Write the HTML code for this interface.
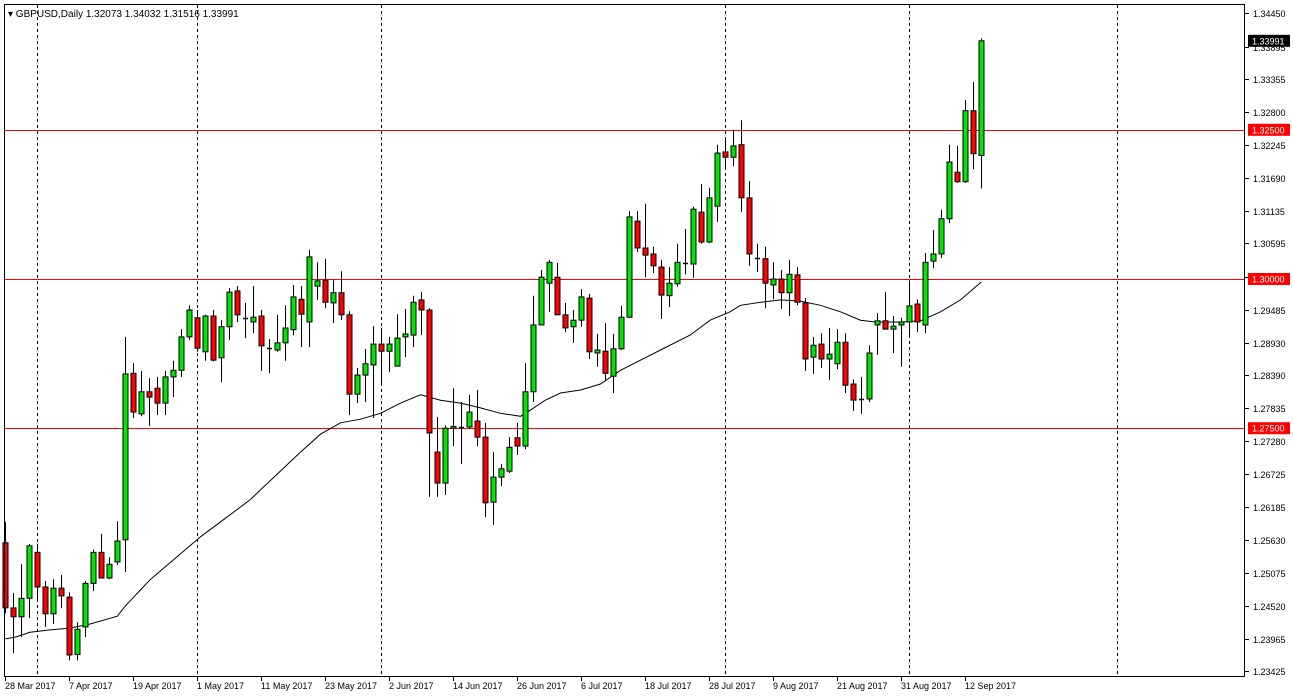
<!DOCTYPE html>
<html><head><meta charset="utf-8"><style>
html,body{margin:0;padding:0;background:#fff;}
svg{display:block;font-family:"Liberation Sans",sans-serif;}
</style></head><body>
<svg id="chart" width="1293" height="698" viewBox="0 0 1293 698" xmlns="http://www.w3.org/2000/svg">
<rect x="0" y="0" width="1293" height="698" fill="#fff"/>
<g id="grid"></g>
<g id="levels"></g>
<g id="ma"></g>
<g id="candles"></g>
<g id="yaxis"></g>
<g id="xaxis"></g>
<rect x="4.5" y="4.5" width="1240" height="672" fill="none" stroke="#000" stroke-width="1"/>
<text x="8" y="17" font-size="10" fill="#000">▾ GBPUSD,Daily  1.32073 1.34032 1.31516 1.33991</text>
</svg>
<script>
const opens=[1.2558,1.2449,1.2434,1.2465,1.2542,1.2484,1.2439,1.2482,1.2467,1.2371,1.2417,1.2490,1.2542,1.2499,1.2526,1.2563,1.2842,1.2774,1.2811,1.2817,1.2792,1.2836,1.2847,1.2903,1.2935,1.2878,1.2938,1.2868,1.2920,1.2980,1.2935,1.2928,1.2938,1.2884,1.2881,1.2893,1.2915,1.2966,1.2928,1.2988,1.2998,1.2960,1.2977,1.2940,1.2807,1.2839,1.2856,1.2891,1.2879,1.2854,1.2903,1.2906,1.2965,1.2948,1.2710,1.2658,1.2750,1.2752,1.2752,1.2762,1.2735,1.2626,1.2668,1.2678,1.2734,1.2720,1.2811,1.2923,1.2993,1.3003,1.2940,1.2920,1.2931,1.2968,1.2876,1.2879,1.2837,1.2883,1.2936,1.3097,1.3052,1.3042,1.3020,1.2972,1.2992,1.3027,1.3025,1.3112,1.3062,1.3122,1.3213,1.3204,1.3225,1.3136,1.3034,1.3034,1.2990,1.3000,1.2977,1.3007,1.2960,1.2869,1.2891,1.2866,1.2858,1.2894,1.2824,1.2799,1.2799,1.2923,1.2930,1.2916,1.2923,1.2928,1.2958,1.2923,1.3030,1.3042,1.3101,1.3179,1.3163,1.3282,1.3207];
const highs=[1.2593,1.2474,1.2522,1.2556,1.2556,1.2494,1.2497,1.2504,1.2475,1.2425,1.2494,1.2547,1.2573,1.2534,1.2594,1.2903,1.2859,1.2846,1.2834,1.2836,1.2846,1.2863,1.2916,1.2956,1.2948,1.2940,1.2948,1.2931,1.2985,1.2988,1.2960,1.2988,1.2948,1.2899,1.2940,1.2956,1.2990,1.2988,1.3049,1.3028,1.3034,1.2998,1.3013,1.2946,1.2851,1.2883,1.2921,1.2918,1.2903,1.2941,1.2950,1.2972,1.2978,1.2951,1.2769,1.2755,1.2817,1.2794,1.2806,1.2814,1.2759,1.2710,1.2690,1.2735,1.2759,1.2859,1.2972,1.3015,1.3032,1.3027,1.2960,1.2948,1.2983,1.2975,1.2908,1.2926,1.2908,1.2955,1.3114,1.3114,1.3126,1.3054,1.3032,1.3020,1.3059,1.3084,1.3121,1.3159,1.3153,1.3225,1.3238,1.3250,1.3266,1.3164,1.3059,1.3054,1.3028,1.3015,1.3032,1.3020,1.2968,1.2903,1.2909,1.2918,1.2916,1.2909,1.2832,1.2836,1.2889,1.2943,1.2978,1.2938,1.2935,1.2998,1.2966,1.3044,1.3082,1.3116,1.3225,1.3223,1.3300,1.3330,1.34032];
const lows=[1.2440,1.2373,1.2400,1.2432,1.2462,1.2417,1.2422,1.2449,1.2361,1.2361,1.2400,1.2477,1.2499,1.2497,1.2521,1.2509,1.2767,1.2770,1.2754,1.2772,1.2772,1.2802,1.2836,1.2898,1.2878,1.2863,1.2862,1.2827,1.2898,1.2928,1.2901,1.2909,1.2846,1.2842,1.2878,1.2863,1.2906,1.2886,1.2886,1.2965,1.2951,1.2926,1.2931,1.2772,1.2792,1.2794,1.2767,1.2822,1.2844,1.2854,1.2869,1.2886,1.2906,1.2635,1.2635,1.2638,1.2720,1.2690,1.2750,1.2720,1.2601,1.2588,1.2653,1.2675,1.2705,1.2715,1.2794,1.2923,1.2945,1.2940,1.2911,1.2893,1.2920,1.2866,1.2853,1.2829,1.2809,1.2881,1.2935,1.3045,1.3003,1.3010,1.2933,1.2953,1.2987,1.3008,1.3002,1.3059,1.3060,1.3096,1.3186,1.3189,1.3112,1.3022,1.3012,1.2951,1.2966,1.2950,1.2938,1.2956,1.2846,1.2841,1.2851,1.2831,1.2849,1.2809,1.2779,1.2774,1.2794,1.2873,1.2915,1.2876,1.2853,1.2904,1.2911,1.2909,1.3018,1.3035,1.3094,1.3161,1.3161,1.3184,1.31516];
const closes=[1.2449,1.2434,1.2465,1.2553,1.2484,1.2439,1.2482,1.2469,1.2370,1.2413,1.2490,1.2542,1.2499,1.2522,1.2561,1.2841,1.2777,1.2811,1.2802,1.2792,1.2836,1.2847,1.2903,1.2948,1.2884,1.2938,1.2864,1.2920,1.2978,1.2940,1.2933,1.2936,1.2888,1.2883,1.2893,1.2918,1.2970,1.2941,1.3037,1.2997,1.2961,1.2977,1.2940,1.2807,1.2839,1.2858,1.2891,1.2879,1.2891,1.2901,1.2908,1.2961,1.2948,1.2742,1.2658,1.2750,1.2753,1.2751,1.2777,1.2735,1.2625,1.2668,1.2682,1.2718,1.2720,1.2811,1.2923,1.3003,1.3028,1.2940,1.2918,1.2931,1.2970,1.2878,1.2881,1.2842,1.2883,1.2936,1.3104,1.3052,1.3040,1.3022,1.2973,1.2993,1.3028,1.3025,1.3117,1.3062,1.3136,1.3211,1.3204,1.3223,1.3136,1.3042,1.3035,1.2993,1.3000,1.2977,1.3008,1.2961,1.2866,1.2889,1.2866,1.2874,1.2894,1.2822,1.2797,1.2797,1.2876,1.2930,1.2916,1.2921,1.2928,1.2955,1.2928,1.3028,1.3042,1.3101,1.3196,1.3163,1.3282,1.3210,1.33991];
const maIdx=[0,1.25,3.1,5.6,8.1,10.6,14,15,18.1,21.25,24.4,27.5,30.6,33.75,36.9,39.4,41.9,44.4,46.9,49.4,51.9,54.4,56.9,59.4,61.9,64.4,65.6,67.5,69.4,71.9,74.4,76.9,79.4,81.9,85.6,88.1,90.6,91.9,94.4,96.9,99.4,101.9,104.4,106.9,108.75,111.9,114.4,116.9,119.4,122];
const maVals=[1.2397,1.2400,1.2408,1.2412,1.2415,1.2422,1.2435,1.2452,1.2496,1.2532,1.2568,1.2599,1.2630,1.2670,1.2710,1.2740,1.2759,1.2765,1.2775,1.2792,1.2806,1.2797,1.2792,1.2784,1.2775,1.2770,1.2780,1.2797,1.2809,1.2814,1.2824,1.2847,1.2864,1.2881,1.2906,1.2931,1.2945,1.2956,1.2961,1.2965,1.2963,1.2956,1.2945,1.2931,1.2928,1.2928,1.2930,1.2945,1.2965,1.2995];
const priceTicks=[1.34450,1.33895,1.33355,1.32800,1.32245,1.31690,1.31135,1.30595,1.30040,1.29485,1.28930,1.28390,1.27835,1.27280,1.26725,1.26185,1.25630,1.25075,1.24520,1.23965,1.23425];
const levelVals=[1.3250,1.3000,1.2750];
const dateLabels=["28 Mar 2017","7 Apr 2017","19 Apr 2017","1 May 2017","11 May 2017","23 May 2017","2 Jun 2017","14 Jun 2017","26 Jun 2017","6 Jul 2017","18 Jul 2017","28 Jul 2017","9 Aug 2017","21 Aug 2017","31 Aug 2017","12 Sep 2017"];
const dateIdx=[0,8,16,24,32,40,48,56,64,72,80,88,96,104,112,120];
const sepIdx=[4,24,47,90,113,139];
const lastPrice=1.33991;

const NS="http://www.w3.org/2000/svg";
const X=i=>5.3+8*i;
const Y=p=>279-(p-1.3)*5968;
function mk(tag,attrs,parent){const e=document.createElementNS(NS,tag);for(const k in attrs)e.setAttribute(k,attrs[k]);parent.appendChild(e);return e;}
const G=id=>document.getElementById(id);

sepIdx.forEach(i=>{const x=Math.round(X(i))+0.5;
 const l=mk('line',{x1:x,y1:5,x2:x,y2:676,stroke:'#000','stroke-width':1,'stroke-dasharray':'3,3'},G('grid'));
 
 });

levelVals.forEach(v=>{const y=Math.round(Y(v))+0.5;
 const l=mk('line',{x1:5,y1:y,x2:1245,y2:y,stroke:'#ff0000','stroke-width':1},G('levels'));
 
 });

let d='';maIdx.forEach((i,k)=>{d+=(k?'L':'M')+X(i).toFixed(1)+','+Y(maVals[k]).toFixed(1);});
const maP=mk('path',{d:d,fill:'none',stroke:'#000','stroke-width':1},G('ma'));



opens.forEach((o,i)=>{const c=closes[i],h=highs[i],l=lows[i];const x=Math.round(X(i));
 const g=mk('g',{},G('candles'));
 
 
 mk('line',{x1:x+0.5,y1:Y(h),x2:x+0.5,y2:Y(l),stroke:'#000','stroke-width':1},g);
 const top=Math.min(Y(o),Y(c)),bot=Math.max(Y(o),Y(c));
 if(bot-top<1.5){mk('line',{x1:x-2,y1:Math.round(top)+0.5,x2:x+3,y2:Math.round(top)+0.5,stroke:'#000','stroke-width':1.5},g);}
 else mk('rect',{x:x-2,y:top,width:5,height:bot-top,fill:c>=o?'#00e600':'#ff0000',stroke:'#000','stroke-width':1},g);
});

const ya=G('yaxis');
mk('rect',{x:1246,y:0,width:47,height:698,fill:'#fff'},ya);
mk('line',{x1:1244.5,y1:4,x2:1244.5,y2:677,stroke:'#000'},ya);
priceTicks.forEach(p=>{const y=Math.round(Y(p))+0.5;
 mk('line',{x1:1245,y1:y,x2:1249,y2:y,stroke:'#000'},ya);
 const t=mk('text',{x:1253,y:y+3.5,'font-size':9,fill:'#000'},ya);t.textContent=p.toFixed(5);
 
 });
levelVals.forEach(v=>{const y=Y(v);
 mk('rect',{x:1248,y:y-6,width:42,height:12,fill:'#ff0000'},ya);
 const t=mk('text',{x:1252,y:y+3.5,'font-size':9,fill:'#fff'},ya);t.textContent=v.toFixed(5);
 
 });
{const y=Y(lastPrice);
 mk('rect',{x:1248,y:y-6,width:42,height:12,fill:'#000'},ya);
 const t=mk('text',{x:1252,y:y+3.5,'font-size':9,fill:'#fff'},ya);t.textContent=lastPrice.toFixed(5);
 
 }

const xa=G('xaxis');
dateLabels.forEach((s,k)=>{const x=Math.round(X(dateIdx[k]))+0.5;
 mk('line',{x1:x,y1:677,x2:x,y2:681,stroke:'#000'},xa);
 const t=mk('text',{x:x-0.5,y:689,'font-size':9,fill:'#000'},xa);t.textContent=s;
 
 });
</script>
</body></html>
